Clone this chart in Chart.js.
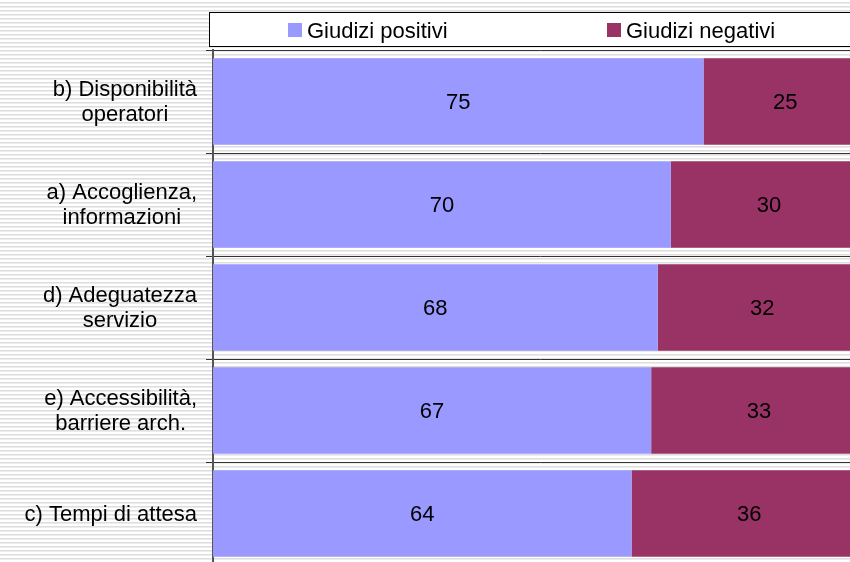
<!DOCTYPE html>
<html>
<head>
<meta charset="utf-8">
<script src="https://cdn.jsdelivr.net/npm/chart.js@4/dist/chart.umd.min.js"></script>
<style>
  html, body { margin:0; padding:0; width:850px; height:562px; overflow:hidden;
    background: repeating-linear-gradient(to bottom, #ffffff 0px, #ffffff 2px, #dedede 2px, #dedede 3px, #ececec 3px, #ececec 4px); }
  #wrap { position:absolute; left:0; top:0; width:867px; height:565px; }
</style>
</head>
<body>
<div id="wrap"><canvas id="c" width="867" height="565"></canvas></div>
<script>
const categories = [
  ["b) Disponibilità", "operatori"],
  ["a) Accoglienza,", "informazioni"],
  ["d) Adeguatezza", "servizio"],
  ["e) Accessibilità,", "barriere arch."],
  ["c) Tempi di attesa"]
];
const seriesNames = ["Giudizi positivi", "Giudizi negativi"];
const positivi = [75, 70, 68, 67, 64];
const negativi = [25, 30, 32, 33, 36];

const FONT = "Arial, 'Liberation Sans', sans-serif";
const colors = ["#9999FF", "#993366"];

const legendBox = {
  id: 'legendBox',
  afterDraw(chart) {
    const ctx = chart.ctx;
    ctx.save();
    ctx.fillStyle = '#ffffff';
    ctx.fillRect(209.5, 12.5, 700, 34);
    ctx.strokeStyle = '#000000';
    ctx.lineWidth = 1;
    ctx.strokeRect(209.5, 12.5, 700, 34);
    const items = [{sx: 288, tx: 307}, {sx: 607, tx: 626}];
    ctx.font = "22px " + FONT;
    ctx.textBaseline = 'alphabetic';
    ctx.textAlign = 'left';
    chart.data.datasets.forEach((ds, i) => {
      ctx.fillStyle = ds.backgroundColor;
      ctx.fillRect(items[i].sx, 23, 14, 14);
      ctx.fillStyle = '#000000';
      ctx.fillText(ds.label, items[i].tx, 37.5);
    });
    ctx.restore();
  }
};

const categoryLabels = {
  id: 'categoryLabels',
  afterDraw(chart) {
    const ctx = chart.ctx;
    const scale = chart.scales.y;
    const rightEdge = 197;
    const lineH = 25.5;
    ctx.save();
    ctx.font = "22px " + FONT;
    ctx.fillStyle = '#000000';
    ctx.textAlign = 'center';
    ctx.textBaseline = 'middle';
    chart.data.labels.forEach((lab, i) => {
      const lines = Array.isArray(lab) ? lab : [lab];
      const w = Math.max(...lines.map(l => ctx.measureText(l).width));
      const cx = rightEdge - w / 2;
      const cy = scale.getPixelForTick(i);
      const y0 = cy - (lines.length - 1) * lineH / 2;
      lines.forEach((l, k) => ctx.fillText(l, cx, y0 + k * lineH + 1));
    });
    ctx.restore();
  }
};

const valueLabels = {
  id: 'valueLabels',
  afterDatasetsDraw(chart) {
    const ctx = chart.ctx;
    ctx.save();
    ctx.font = "22px " + FONT;
    ctx.fillStyle = '#000000';
    ctx.textAlign = 'center';
    ctx.textBaseline = 'middle';
    chart.data.datasets.forEach((ds, di) => {
      const meta = chart.getDatasetMeta(di);
      meta.data.forEach((bar, i) => {
        const p = bar.getProps(['x', 'base', 'y'], true);
        const cx = (p.x + p.base) / 2;
        ctx.fillText(String(ds.data[i]), cx, p.y + 1);
      });
    });
    ctx.restore();
  }
};

new Chart(document.getElementById('c'), {
  type: 'bar',
  data: {
    labels: categories,
    datasets: [
      { label: seriesNames[0], data: positivi, backgroundColor: colors[0], borderWidth: 0 },
      { label: seriesNames[1], data: negativi, backgroundColor: colors[1], borderWidth: 0 }
    ]
  },
  options: {
    indexAxis: 'y',
    responsive: false,
    animation: false,
    devicePixelRatio: 1,
    layout: { padding: { top: 50, left: 0, right: 0, bottom: 0 } },
    plugins: { legend: { display: false }, tooltip: { enabled: false } },
    datasets: { bar: { barPercentage: 0.84, categoryPercentage: 1 } },
    scales: {
      x: { stacked: true, display: false, min: 0, max: 100 },
      y: {
        stacked: true,
        z: 1,
        afterFit(scale) { scale.width = 213; scale.paddingTop = 0; scale.paddingBottom = 0; },
        grid: { offset: true, color: '#333333', lineWidth: 1, tickLength: 7, drawOnChartArea: true, drawTicks: true },
        border: { display: true, color: '#555555', width: 2 },
        ticks: { display: false, font: { family: FONT, size: 22 } }
      }
    }
  },
  plugins: [legendBox, categoryLabels, valueLabels]
});
</script>
</body>
</html>
